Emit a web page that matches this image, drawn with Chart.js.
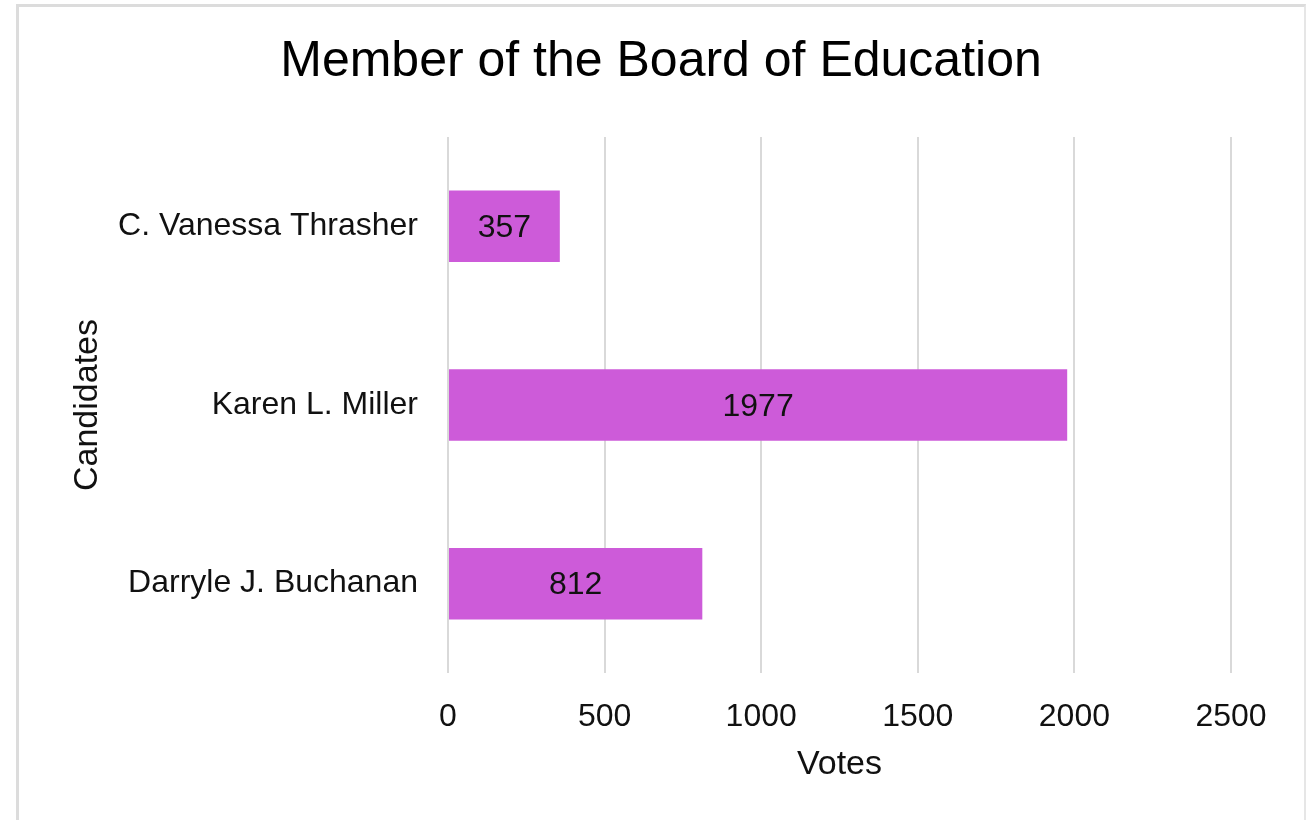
<!DOCTYPE html>
<html>
<head>
<meta charset="utf-8">
<title>Member of the Board of Education</title>
<script src="https://cdn.jsdelivr.net/npm/chart.js@4/dist/chart.umd.min.js"></script>
<style>
    html, body { margin: 0; padding: 0; background: #fff; overflow: hidden; }
    #marco {
        position: absolute; left: 16px; top: 4px;
        width: 1285px; height: 900px;
        border-top: 3px solid #dcdcdc;
        border-left: 3px solid #dcdcdc;
        border-right: 2px solid #e6e6e6;
    }
    #contenedor { position: absolute; left: 0; top: 0; width: 1306px; height: 820px; }
</style>
</head>
<body>
<div id="marco"></div>
<div id="contenedor"><canvas id="votosChart"></canvas></div>
<script>
// Datos del grafico
const candidatos = ["C. Vanessa Thrasher", "Karen L. Miller", "Darryle J. Buchanan"];
const votos = [357, 1977, 812];
const ticksVotos = [0, 500, 1000, 1500, 2000, 2500];

document.addEventListener("DOMContentLoaded", () => {
    const ctx = document.getElementById("votosChart").getContext("2d");
    const fuente = "'Liberation Sans', Arial, sans-serif";

    // Etiquetas de valor dentro de cada barra
    const etiquetasBarras = {
        id: "etiquetasBarras",
        afterDatasetsDraw(chart) {
            const c = chart.ctx;
            const meta = chart.getDatasetMeta(0);
            c.save();
            c.font = "32px " + fuente;
            c.fillStyle = "#111";
            c.textAlign = "center";
            c.textBaseline = "middle";
            meta.data.forEach((bar, i) => {
                c.fillText(String(votos[i]), (bar.x + bar.base) / 2, bar.y + 2);
            });
            c.restore();
        }
    };

    new Chart(ctx, {
        type: "bar",
        data: {
            labels: candidatos,
            datasets: [{
                label: "Votes",
                data: votos,
                backgroundColor: "#cd5bd9",
                borderWidth: 0,
                barPercentage: 0.4,
                categoryPercentage: 1
            }]
        },
        options: {
            indexAxis: "y",
            responsive: true,
            maintainAspectRatio: false,
            animation: false,
            layout: { padding: { left: 91, right: 75, top: 32, bottom: 0 } },
            plugins: {
                legend: { display: false },
                tooltip: { enabled: false },
                title: {
                    display: true,
                    text: "Member of the Board of Education",
                    color: "#000",
                    font: { family: fuente, size: 50, weight: "normal" },
                    padding: { top: 0, bottom: 45 }
                }
            },
            scales: {
                x: {
                    min: 0,
                    max: 2500,
                    afterBuildTicks: (scale) => {
                        scale.ticks = ticksVotos.map(v => ({ value: v }));
                    },
                    afterFit: (scale) => { scale.height = 147; },
                    grid: { color: "#d9d9d9", lineWidth: 2, drawTicks: false },
                    border: { display: false },
                    ticks: {
                        color: "#111",
                        padding: 25,
                        font: { family: fuente, size: 32 },
                        callback: (v) => String(v)
                    },
                    title: {
                        display: true,
                        text: "Votes",
                        color: "#111",
                        font: { family: fuente, size: 34 },
                        padding: { top: 4, bottom: 35 }
                    }
                },
                y: {
                    afterFit: (scale) => { scale.width = 357; },
                    grid: { display: false, drawTicks: false },
                    border: { display: false },
                    ticks: {
                        color: "#111",
                        padding: 30,
                        font: { family: fuente, size: 32 }
                    },
                    title: {
                        display: true,
                        text: "Candidates",
                        color: "#111",
                        font: { family: fuente, size: 34 },
                        padding: { top: -23.5, bottom: 4 }
                    }
                }
            }
        },
        plugins: [etiquetasBarras]
    });
});
</script>
</body>
</html>
